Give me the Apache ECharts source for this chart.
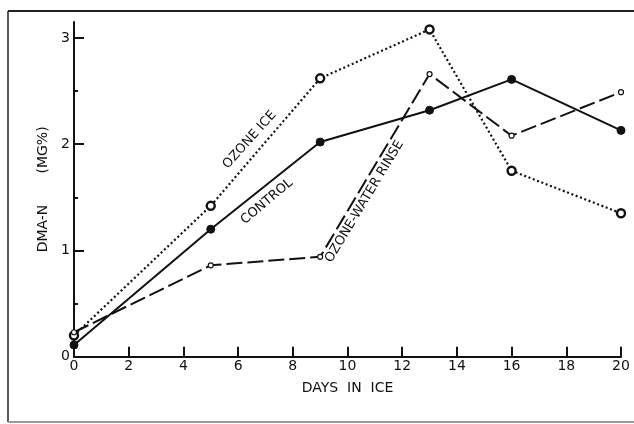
<!DOCTYPE html>
<html>
<head>
<meta charset="utf-8">
<script src="https://cdn.jsdelivr.net/npm/echarts@6/dist/echarts.min.js"></script>
<style>
  html, body { margin: 0; padding: 0; background: #fff; }
  #chart { width: 634px; height: 424px; }
</style>
</head>
<body>
<div id="chart"></div>
<script>
// DMA-N content of fish held in ice, by treatment
const days = [0, 5, 9, 13, 16, 20];
const ozoneIce = [0.2, 1.42, 2.62, 3.08, 1.75, 1.35];
const control = [0.11, 1.2, 2.02, 2.32, 2.61, 2.13];
const ozoneWaterRinse = [0.23, 0.86, 0.94, 2.66, 2.08, 2.49];
const xTicks = [0, 2, 4, 6, 8, 10, 12, 14, 16, 18, 20];
const yTicks = [0, 1, 2, 3];
const yMinorTicks = [0.5, 1.5, 2.5];

const INK = '#111';
const FONT = 'DejaVu Sans';

const pairs = (ys) => days.map((d, i) => [d, ys[i]]);

// rotated lettering placed along a line, anchored in data units
function lineTag(text, coord, angle) {
  return {
    symbol: 'circle',
    symbolSize: 0,
    silent: true,
    data: [{ coord: coord, value: text }],
    label: {
      show: true,
      position: 'inside',
      formatter: text,
      rotate: angle,
      color: INK,
      fontFamily: FONT,
      fontSize: 13
    }
  };
}

const chart = echarts.init(document.getElementById('chart'), null, { renderer: 'canvas' });

chart.setOption({
  animation: false,
  backgroundColor: '#fff',
  textStyle: { fontFamily: FONT, color: INK },
  grid: { left: 74, right: 13, top: 22, bottom: 67.3 },
  graphic: [
    { type: 'line', shape: { x1: 8, y1: 11, x2: 640, y2: 11 }, style: { stroke: '#222', lineWidth: 2 } },
    { type: 'line', shape: { x1: 8, y1: 11, x2: 8, y2: 422 }, style: { stroke: '#222', lineWidth: 1.5 } },
    { type: 'line', shape: { x1: 8, y1: 422, x2: 640, y2: 422 }, style: { stroke: '#999', lineWidth: 2 } }
  ],
  xAxis: {
    type: 'value',
    min: 0,
    max: 20,
    interval: 2,
    name: 'DAYS  IN  ICE',
    nameLocation: 'middle',
    nameGap: 25,
    nameTextStyle: { fontFamily: FONT, fontSize: 14, color: INK },
    axisLine: { show: true, onZero: false, lineStyle: { color: INK, width: 2 } },
    axisTick: { show: true, inside: true, length: 10, customValues: xTicks, lineStyle: { color: INK, width: 2 } },
    axisLabel: { fontFamily: FONT, fontSize: 14, color: INK, margin: 3, customValues: xTicks },
    splitLine: { show: false }
  },
  yAxis: [
    {
      type: 'value',
      min: 0,
      max: 3.15,
      interval: 1,
      name: 'DMA-N       (MG%)',
      nameLocation: 'middle',
      nameGap: 23,
      nameTextStyle: { fontFamily: FONT, fontSize: 14, color: INK },
      axisLine: { show: true, onZero: false, lineStyle: { color: INK, width: 2 } },
      axisTick: { show: true, inside: true, length: 10, customValues: yTicks, lineStyle: { color: INK, width: 2 } },
      axisLabel: { fontFamily: FONT, fontSize: 14, color: INK, margin: 4, customValues: yTicks },
      splitLine: { show: false }
    },
    {
      type: 'value',
      min: 0,
      max: 3.15,
      position: 'left',
      axisLine: { show: false },
      axisTick: { show: true, inside: true, length: 4, customValues: yMinorTicks, lineStyle: { color: INK, width: 2 } },
      axisLabel: { show: false },
      splitLine: { show: false }
    }
  ],
  series: [
    {
      name: 'OZONE ICE',
      type: 'line',
      data: pairs(ozoneIce),
      symbol: 'circle',
      symbolSize: 8,
      itemStyle: { color: '#fff', borderColor: INK, borderWidth: 2.4 },
      lineStyle: { color: INK, width: 2.2, type: [2, 2.6] },
      markPoint: lineTag('OZONE ICE', [6.42, 2.04], 48),
      z: 3
    },
    {
      name: 'CONTROL',
      type: 'line',
      data: pairs(control),
      symbol: 'circle',
      symbolSize: 8,
      itemStyle: { color: INK, borderColor: INK, borderWidth: 1 },
      lineStyle: { color: INK, width: 2 },
      markPoint: lineTag('CONTROL', [7.05, 1.46], 40),
      z: 4
    },
    {
      name: 'OZONE-WATER RINSE',
      type: 'line',
      data: pairs(ozoneWaterRinse),
      symbol: 'circle',
      symbolSize: 5,
      itemStyle: { color: '#fff', borderColor: INK, borderWidth: 1.2 },
      lineStyle: { color: INK, width: 2, type: [16, 5] },
      markPoint: lineTag('OZONE-WATER RINSE', [10.62, 1.46], 59),
      z: 5
    }
  ]
});
</script>
</body>
</html>
